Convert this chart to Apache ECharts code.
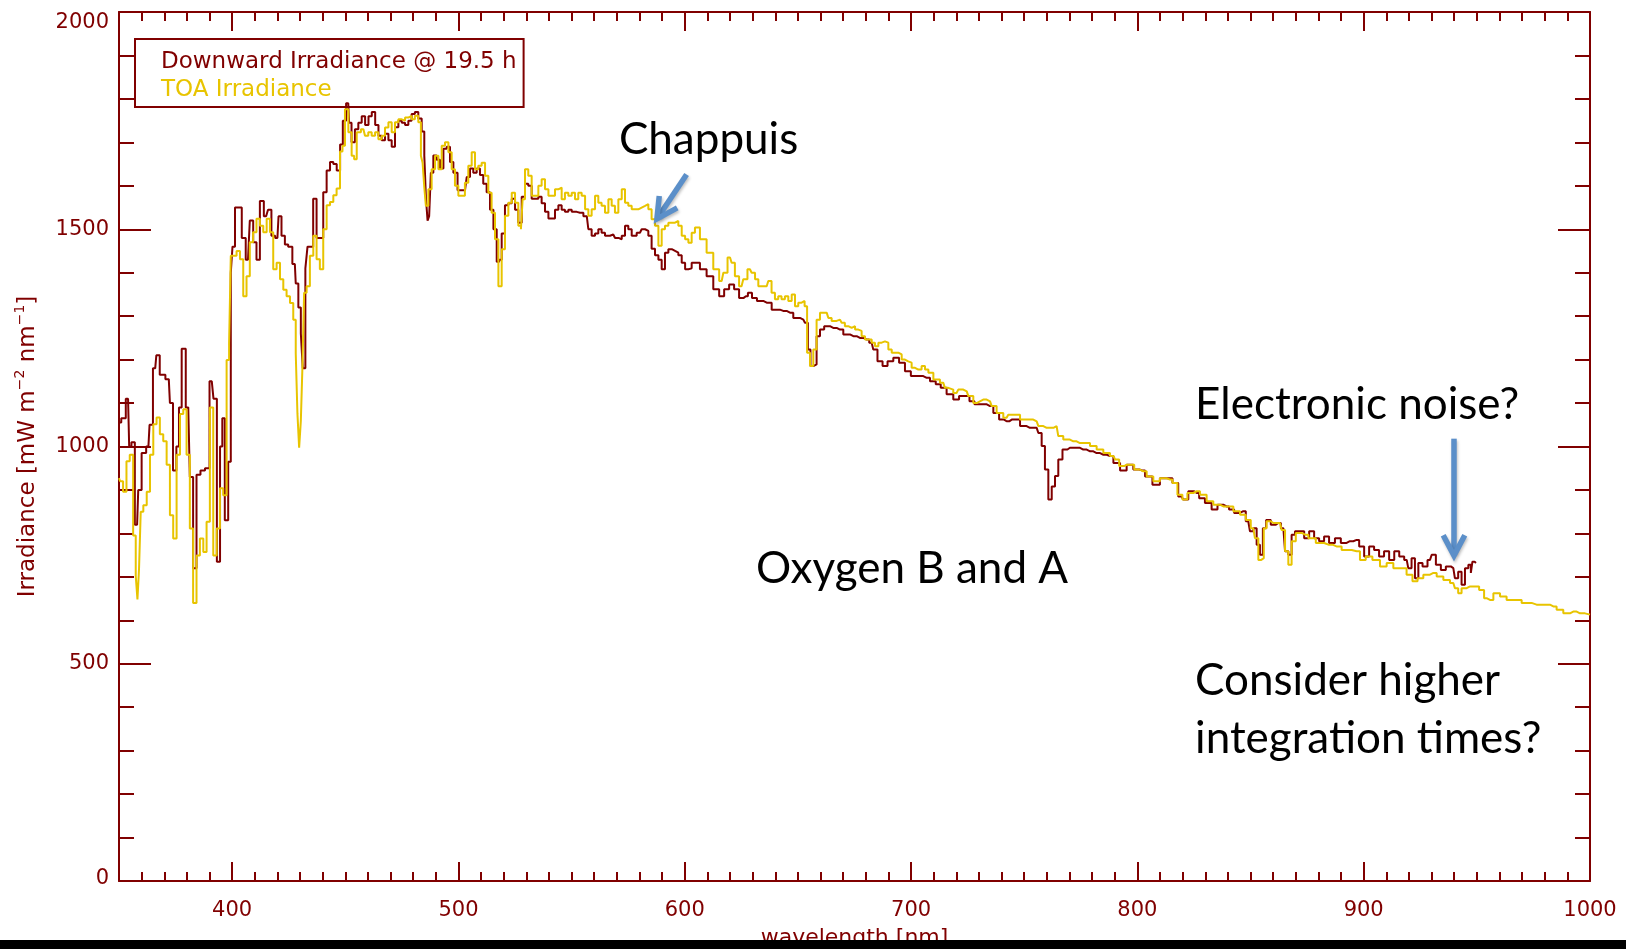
<!DOCTYPE html>
<html><head><meta charset="utf-8">
<script src="https://cdn.jsdelivr.net/npm/echarts@6/dist/echarts.min.js"></script>
<style>html,body{margin:0;padding:0;background:#fff}#c{width:1626px;height:949px}</style>
</head><body><div id="c"></div>
<script>
// ---- data: [wavelength nm, irradiance mW m-2 nm-1] ----
const downward = [
[350,1055],[352,1065],[354,1110],[355,1000],[356,1010],[358,820],[359,900],[361,985],[363,1000],[364,1050],
[366,1180],[367,1210],[369,1165],[372,1155],[373,1100],[374.7,945],[376,1000],[377,1090],[378.4,1225],[380.6,1090],
[382,930],[383.5,720],[385,935],[387,945],[389,950],[391,1150],[392.5,1110],[394,735],[395.3,1000],[396,1065],
[397.5,830],[399,965],[399.8,1400],[400.5,1460],[402,1550],[403.5,1550],[405,1480],[407,1430],[408.6,1520],[410,1470],
[411.5,1430],[413,1565],[415,1530],[416.7,1545],[418,1485],[420,1480],[421,1530],[422.6,1485],[424,1465],[425.5,1460],
[427.7,1420],[428.5,1375],[430,1320],[430.7,1260],[431.7,1180],[433,1410],[433.6,1460],[435,1460],[436.6,1570],[438,1480],
[439.5,1480],[441,1585],[442.5,1635],[444,1655],[445.4,1650],[447,1635],[448.4,1695],[449.4,1750],[451.3,1790],[452,1745],
[453.5,1700],[455,1730],[456.5,1745],[458,1760],[459.5,1740],[461,1760],[462.4,1770],[464,1740],[465.3,1715],[466.8,1705],
[468.3,1720],[469.8,1705],[471.2,1690],[472.7,1735],[474.2,1750],[475.7,1745],[477.1,1740],[478.6,1750],[480,1765],[481.5,1770],
[483,1755],[484.5,1725],[485.3,1670],[486,1570],[486.7,1520],[487.4,1530],[488.2,1630],[489.6,1670],[491.1,1660],[492.6,1640],
[494.1,1685],[495.5,1690],[497,1655],[498.5,1630],[500.7,1590],[502.9,1590],[504.4,1620],[505.8,1640],[507.3,1630],[508.8,1640],
[510.2,1625],[511.7,1605],[513.2,1585],[514.7,1545],[516.2,1500],[517.6,1425],[518.4,1430],[519.8,1490],[521.3,1555],[522.8,1560],
[524.3,1570],[525.7,1545],[527.2,1515],[528.7,1575],[530.1,1605],[531.6,1600],[533.1,1570],[534.6,1570],[536,1575],[537.5,1560],
[539,1540],[540.5,1525],[541.9,1525],[543.4,1545],[544.9,1555],[546.3,1545],[547.8,1540],[549.3,1545],[550.8,1540],[553.7,1538],
[556.7,1530],[558.1,1500],[559.6,1485],[561.1,1490],[562.5,1500],[564,1492],[565.5,1485],[568.4,1488],[570,1480],[571.4,1477],
[572.9,1485],[574.3,1508],[575.8,1500],[577.3,1485],[580.2,1492],[581.7,1500],[583.2,1496],[584.6,1485],[586.1,1455],[587.6,1440],
[589.1,1430],[590.5,1408],[592,1446],[593.5,1454],[595,1450],[596.4,1446],[597.9,1440],[599.4,1423],[600.9,1408],[602.3,1410],
[603.8,1423],[605.2,1423],[608.2,1408],[611.1,1392],[614.1,1362],[616.3,1346],[618.5,1362],[620.7,1373],[622.9,1362],[625.1,1342],
[627,1346],[628.8,1354],[630.6,1342],[633.2,1335],[636.2,1331],[640.6,1315],[643.5,1312],[646.5,1308],[649.4,1296],[652.4,1292],
[653.8,1285],[655,1223],[656.1,1185],[657.5,1189],[659,1254],[660.5,1269],[662.7,1277],[665.6,1273],[668.6,1269],[671.5,1258],
[674.5,1254],[677.4,1250],[680.4,1246],[682.6,1239],[684,1223],[686.3,1196],[688.5,1185],[690.7,1196],[693.6,1204],[695.8,1193],
[698.8,1173],[701,1162],[703.9,1162],[706.9,1158],[709.8,1150],[712,1143],[714.2,1135],[717.2,1120],[720.1,1108],[722.3,1116],
[724.6,1116],[727,1104],[729,1097],[732,1097],[734.9,1093],[737.8,1077],[740,1062],[742.2,1058],[744.5,1062],[746.7,1062],
[749.6,1047],[752.5,1043],[755.5,1043],[757,1031],[758.4,1001],[759.9,947],[761.4,878],[762.9,908],[764.3,932],[765.8,970],
[768,993],[770.2,997],[773.2,997],[776.1,993],[779.1,989],[782,985],[785,981],[787.9,978],[790.9,962],[793.8,945],
[796.7,958],[799.7,947],[802,945],[804.8,931],[808.5,912],[811.4,927],[814.4,927],[816.6,916],[819.5,885],[821,878],
[824,897],[826.2,893],[828.4,881],[831.3,870],[834.3,855],[836.5,866],[839.4,862],[841.6,855],[843.9,847],[846.8,851],
[849,828],[850.5,805],[852,812],[853.4,774],[854.9,751],[856,812],[857.8,831],[860.1,820],[862.3,824],[864.5,812],
[866,759],[867.4,751],[868.9,797],[870.4,805],[872.6,805],[874.8,789],[877,805],[879.2,789],[881.4,782],[883.6,793],
[885.8,778],[888.8,789],[891,778],[893.9,782],[896.9,785],[899.1,770],[901.3,747],[903.5,770],[905.7,762],[907.9,747],
[910.1,759],[912.4,739],[914.6,759],[916.8,747],[919,739],[920.4,720],[921.9,743],[923.4,697],[924.9,732],[927.1,724],
[929.3,739],[930.8,751],[933,728],[935.2,716],[937.4,724],[939.6,720],[941,697],[942.5,712],[944,682],[945.5,720],
[947,728],[947.7,709],[948.4,735],[949.6,732]
];
const toa = [
[350,927],[351,920],[352.6,896],[354,966],[355.5,981],[357,795],[357.8,702],[358.5,648],[359.2,718],[360,850],
[361.5,865],[363,896],[364.4,981],[365.9,1051],[367.3,1067],[368.8,1028],[370.3,1012],[371.8,958],[373.2,842],[374.7,788],
[376.2,981],[377.7,1075],[379.1,1086],[380.6,981],[382,811],[383.5,640],[385,749],[386.5,788],[388,757],[389.4,827],
[390.9,1090],[392.4,749],[393.9,811],[395.3,904],[396.8,888],[398.3,1199],[399,1237],[399.8,1439],[401.2,1439],[402.7,1450],
[404.2,1431],[405.6,1346],[407.1,1392],[408.5,1470],[410,1493],[411.5,1524],[413,1508],[414.5,1493],[416,1524],[417.4,1493],
[418.9,1408],[420.4,1423],[421.9,1385],[423.3,1361],[424.8,1346],[426.3,1330],[427.7,1292],[428.5,1214],[429.2,1075],[430,997],
[430.7,1059],[431.4,1183],[432.2,1354],[433.6,1369],[435.1,1439],[436.6,1485],[438,1431],[439.5,1408],[441,1500],[442.5,1555],
[444,1563],[445.4,1578],[446.9,1594],[448.4,1679],[449.1,1692],[450.6,1776],[452.1,1723],[453.5,1669],[454.3,1661],[455.8,1723],
[458,1730],[459.4,1715],[460.9,1723],[462.4,1715],[463.9,1723],[465.3,1707],[466.8,1715],[468.3,1734],[469.8,1746],[471.2,1723],
[472.7,1746],[474.2,1753],[475.7,1750],[477.1,1757],[478.6,1761],[480,1753],[481.5,1761],[483,1746],[483.8,1669],[484.5,1653],
[485.2,1600],[486,1554],[487.4,1592],[488.9,1638],[490.4,1669],[491.9,1638],[493.3,1692],[494.8,1700],[496.3,1677],[497.7,1638],
[499.2,1600],[500.7,1577],[502.1,1577],[503.6,1607],[505.1,1646],[506.6,1677],[508,1638],[509.5,1646],[511,1653],[512.5,1623],
[513.9,1584],[515.4,1538],[516.9,1477],[518.4,1369],[519.8,1454],[521.3,1531],[522.8,1561],[524.3,1584],[525.7,1561],[527.2,1508],
[528,1500],[528.7,1569],[530.1,1638],[531.6,1623],[533.1,1577],[534.6,1577],[536,1600],[537.5,1615],[539,1592],[540.5,1577],
[541.9,1577],[543.4,1592],[544.9,1596],[546.3,1569],[547.8,1584],[549.3,1577],[550.8,1584],[552.2,1569],[553.7,1584],[555.2,1577],
[556.7,1546],[558.1,1531],[559.6,1546],[561.1,1577],[562.5,1561],[564,1554],[565.5,1538],[567,1569],[568.4,1554],[569.9,1538],
[571.4,1569],[572.9,1592],[574.3,1561],[575.8,1554],[577.3,1546],[578.8,1546],[580.2,1550],[581.7,1554],[583.2,1558],[584.6,1546],
[586.1,1523],[587.6,1508],[589.1,1462],[590.5,1500],[592,1508],[593.5,1515],[595,1515],[596.4,1519],[597.9,1508],[599.4,1485],
[600.9,1477],[602.3,1469],[603.8,1492],[605.2,1504],[608.2,1477],[611.1,1446],[614.1,1408],[616.3,1381],[617.8,1400],[620,1435],
[621.4,1423],[622.9,1392],[625.1,1369],[626.6,1385],[628.8,1408],[630.3,1400],[631.8,1385],[633.2,1369],[636.2,1369],[637.6,1381],
[639.1,1354],[640.6,1339],[642,1346],[643.5,1339],[645,1346],[646.5,1335],[648,1350],[649.4,1323],[650.9,1331],[652.4,1335],
[653.5,1323],[654.6,1216],[656.1,1185],[657.5,1223],[659,1292],[660.5,1308],[662.7,1308],[664.2,1296],[665.6,1289],[668.6,1292],
[670,1285],[671.5,1277],[673,1273],[674.5,1277],[676,1269],[677.4,1266],[678.9,1254],[680.4,1246],[681.9,1246],[683.3,1239],
[684.8,1231],[686.3,1239],[687.7,1242],[689.2,1239],[690.7,1223],[692.2,1216],[693.6,1216],[695.1,1212],[696.6,1200],[698,1196],
[699.5,1193],[701,1181],[702.5,1177],[703.9,1177],[705.4,1185],[706.9,1177],[708.4,1170],[711.3,1154],[714.2,1147],[715.7,1135],
[717.2,1131],[720.1,1123],[721.6,1131],[724.6,1127],[726,1116],[729,1100],[730.4,1104],[731.9,1108],[734.9,1104],[736.3,1093],
[739.3,1077],[742.2,1066],[743.7,1073],[746.7,1073],[749.6,1062],[752.5,1062],[755.5,1058],[757,1047],[759.9,1043],[762.9,1043],
[764.3,1047],[765.8,1024],[768.7,1016],[771.7,1012],[774.6,1008],[777.6,1008],[780.5,1001],[783.5,993],[786.4,985],[789.4,978],
[790.9,970],[793,955],[795.3,958],[797.5,958],[799.7,947],[802.6,943],[805.6,931],[808.5,920],[811.4,927],[814.4,924],
[816.6,916],[818.8,889],[821,878],[823.2,893],[826.2,897],[829.1,889],[832.1,874],[835,866],[838,862],[840.9,862],
[843.9,851],[846.8,843],[849,831],[851.2,812],[852.7,789],[854.2,739],[855.3,743],[856.4,812],[857.8,828],[860.1,824],
[863,824],[864.5,808],[866,759],[867.4,728],[868.9,782],[871.1,801],[874.1,797],[877,789],[880.7,778],[884.4,774],
[888,770],[892.5,762],[896.9,759],[899.8,739],[902,747],[905.7,739],[908.7,724],[911.6,732],[914.6,720],[917.5,720],
[920.4,705],[922.7,690],[924.9,697],[927.8,705],[930.8,709],[933.7,701],[936.7,693],[939.6,686],[941,674],[942.5,662],
[944,674],[947,678],[949.9,678],[952.1,670],[954.3,651],[955.8,647],[958.8,662],[961.7,655],[964.6,647],[967.6,647],
[972,640],[976.4,636],[980.8,636],[983.8,632],[986.7,624],[989.7,616],[992.6,620],[995.6,616],[1000,613]
];
const seriesNames = ['Downward Irradiance @ 19.5 h', 'TOA Irradiance'];
const xName = 'wavelength [nm]';
const yNameRich = '{t|Irradiance [mW m}{s|\u22122}{t| nm}{s|\u22121}{t|]}';
// annotations in data coordinates [wavelength, irradiance]
const annotationTexts = [
  {text: 'Chappuis', at: [570.9, 1706]},
  {text: 'Electronic noise?', at: [825.5, 1096]},
  {text: 'Oxygen B and A', at: [631.5, 719]},
  {text: 'Consider higher', at: [825.5, 461]},
  {text: 'integration times?', at: [825.5, 327]}
];
const annotationArrows = [
  {from: [600.8, 1626], to: [587.7, 1524]},
  {from: [939.9, 1018], to: [939.9, 749]}
];

const RED = '#800000', YEL = '#E8C400', FONT = 'DejaVu Sans';
const tickStyle = {color: RED, width: 2};

function xAx(pos, labels) {
  return {
    type: 'value', min: 350, max: 1000, position: pos,
    axisLine: {show: true, onZero: false, lineStyle: {color: RED, width: 2}},
    axisTick: {show: true, inside: true, length: 19, lineStyle: tickStyle},
    minorTick: {show: true, splitNumber: 10, length: 9, lineStyle: tickStyle},
    splitLine: {show: false}, minorSplitLine: {show: false},
    axisLabel: labels ? {show: true, color: RED, fontSize: 21, fontFamily: FONT, margin: 19,
      showMinLabel: false, formatter: v => String(v)} : {show: false},
    name: labels ? xName : '', nameLocation: 'middle', nameGap: 46,
    nameTextStyle: {color: RED, fontSize: 22, fontFamily: FONT}
  };
}
function yAx(pos, labels) {
  return {
    type: 'value', min: 0, max: 2000, interval: 500, position: pos,
    axisLine: {show: true, onZero: false, lineStyle: {color: RED, width: 2}},
    axisTick: {show: true, inside: true, length: 32, lineStyle: tickStyle},
    minorTick: {show: true, splitNumber: 5, length: 15, lineStyle: tickStyle},
    splitLine: {show: false}, minorSplitLine: {show: false},
    axisLabel: labels ? {
      show: true, color: RED, fontSize: 21, fontFamily: FONT, margin: 10,
      formatter: v => v === 2000 ? '{top|2000}' : (v === 0 ? '{bot|0}' : String(v)),
      rich: {
        top: {color: RED, fontSize: 21, fontFamily: FONT, padding: [22, 0, 0, 0]},
        bot: {color: RED, fontSize: 21, fontFamily: FONT, padding: [0, 0, 4, 0]}
      }
    } : {show: false},
    name: labels ? yNameRich : '', nameLocation: 'middle', nameRotate: 90, nameGap: 76,
    nameTextStyle: {
      color: RED, fontSize: 23, fontFamily: FONT,
      rich: {
        t: {color: RED, fontSize: 23, fontFamily: FONT, lineHeight: 30},
        s: {color: RED, fontSize: 14, fontFamily: FONT, verticalAlign: 'top'}
      }
    }
  };
}

const chart = echarts.init(document.getElementById('c'), null, {renderer: 'canvas'});
chart.setOption({
  animation: false,
  backgroundColor: '#fff',
  grid: {left: 119, right: 36, top: 12, bottom: 68, containLabel: false, outerBoundsMode: 'none'},
  xAxis: [xAx('bottom', true), xAx('top', false)],
  yAxis: [yAx('left', true), yAx('right', false)],
  legend: {
    orient: 'vertical', left: 135, top: 39, selectedMode: false,
    borderColor: RED, borderWidth: 2, backgroundColor: 'rgba(255,255,255,0)',
    padding: [9, 7, 3, 21], itemGap: 0, itemWidth: 0, itemHeight: 0,
    textStyle: {fontSize: 23, fontFamily: FONT, lineHeight: 28},
    data: [
      {name: seriesNames[0], icon: 'rect', textStyle: {color: RED}},
      {name: seriesNames[1], icon: 'rect', textStyle: {color: YEL}}
    ]
  },
  series: [
    {type: 'line', name: seriesNames[0], data: downward, xAxisIndex: 0, yAxisIndex: 0,
     symbol: 'none', step: 'middle', lineStyle: {color: RED, width: 2}, itemStyle: {color: RED}, z: 2},
    {type: 'line', name: seriesNames[1], data: toa, xAxisIndex: 0, yAxisIndex: 0,
     symbol: 'none', step: 'middle', lineStyle: {color: YEL, width: 2}, itemStyle: {color: YEL}, z: 3}
  ]
});

// annotations placed through the chart's own coordinate system
function toPx(p) { return chart.convertToPixel({xAxisIndex: 0, yAxisIndex: 0}, p); }
const ARROW = '#5B8FC9';
const g = [];
annotationTexts.forEach(a => {
  const p = toPx(a.at);
  g.push({type: 'text', x: p[0], y: p[1], z: 100,
    style: {text: a.text, fill: '#000', fontSize: 44, fontFamily: 'Lato', align: 'left', verticalAlign: 'middle'}});
});
annotationArrows.forEach(a => {
  const t = toPx(a.from), h = toPx(a.to);
  const dx = t[0] - h[0], dy = t[1] - h[1], L = Math.hypot(dx, dy);
  const ux = dx / L, uy = dy / L, ang = 28 * Math.PI / 180, al = 23;
  const r1 = [h[0] + al * (ux * Math.cos(ang) - uy * Math.sin(ang)), h[1] + al * (ux * Math.sin(ang) + uy * Math.cos(ang))];
  const r2 = [h[0] + al * (ux * Math.cos(-ang) - uy * Math.sin(-ang)), h[1] + al * (ux * Math.sin(-ang) + uy * Math.cos(-ang))];
  const st = {stroke: ARROW, lineWidth: 5.5, fill: null, lineCap: 'butt', lineJoin: 'miter',
    shadowBlur: 3, shadowColor: 'rgba(0,0,0,0.25)', shadowOffsetX: 1, shadowOffsetY: 2};
  g.push({type: 'polyline', z: 100, shape: {points: [t, [h[0] + ux * 2, h[1] + uy * 2]]}, style: st});
  g.push({type: 'polyline', z: 100, shape: {points: [r1, h, r2]}, style: st});
});
// bottom slide edge (black bar cropping the axis title)
g.push({type: 'rect', z: 200, shape: {x: 0, y: 940, width: 1626, height: 9}, style: {fill: '#000'}});
chart.setOption({graphic: g});
</script>
</body></html>
